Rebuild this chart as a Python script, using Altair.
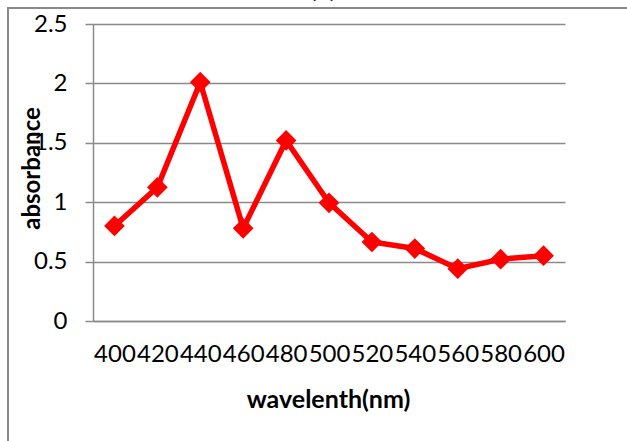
import altair as alt
import pandas as pd

wavelengths = ["400", "420", "440", "460", "480", "500", "520", "540", "560", "580", "600"]
absorbance = [0.80, 1.125, 2.01, 0.78, 1.52, 0.995, 0.665, 0.61, 0.44, 0.52, 0.55]
y_ticks = [0, 0.5, 1, 1.5, 2, 2.5]
chart_title = "(a)"
x_title = "wavelenth(nm)"
y_title = "absorbance"

df = pd.DataFrame({"wavelength": wavelengths, "absorbance": absorbance})

FONT = "Lato"
GRID = "#8a8a8a"
RED = "#ff0000"

x_enc = alt.X(
    "wavelength:O",
    sort=wavelengths,
    scale=alt.Scale(type="point", padding=0.5),
    axis=alt.Axis(
        title=x_title,
        labelAngle=0,
        labelFont=FONT,
        labelFontSize=24,
        labelColor="#000000",
        labelPadding=21,
        ticks=False,
        tickSize=0,
        domainColor=GRID,
        domainWidth=1.5,
        titleFont=FONT,
        titleFontSize=25,
        titleFontWeight="bold",
        titleColor="#000000",
        titleX=235,
        titleY=78,
        titleBaseline="middle",
        titleAlign="center",
    ),
)
y_enc = alt.Y(
    "absorbance:Q",
    scale=alt.Scale(domain=[0, 2.5], nice=False),
    axis=alt.Axis(
        title=y_title,
        values=y_ticks,
        format="~g",
        labelFont=FONT,
        labelFontSize=24,
        labelColor="#000000",
        labelPadding=18,
        tickSize=8,
        tickColor=GRID,
        tickWidth=1.5,
        domainColor=GRID,
        domainWidth=1.5,
        grid=True,
        gridColor=GRID,
        gridWidth=1.5,
        titleFont=FONT,
        titleFontSize=24,
        titleFontWeight="bold",
        titleColor="#000000",
        titleAngle=-90,
        titleX=-61,
        titleY=144,
        titleAlign="center",
        titleBaseline="middle",
    ),
)

line = alt.Chart(df).mark_line(
    color=RED, strokeWidth=5.5,
    point=alt.OverlayMarkDef(shape="diamond", size=430, color=RED, filled=True, opacity=1),
).encode(x=x_enc, y=y_enc)

single = alt.Data(values=[{"t": chart_title}])

border = alt.Chart(single).mark_rect(
    filled=False, stroke=GRID, strokeWidth=2, clip=False
).encode(
    x=alt.value(-85), x2=alt.value(800), y=alt.value(-16), y2=alt.value(600)
)

title_text = alt.Chart(single).mark_text(
    font=FONT, fontSize=26, fontWeight="bold", color="#000000",
    align="center", baseline="alphabetic", clip=False,
).encode(x=alt.value(230), y=alt.value(-27), text="t:N")

chart = alt.layer(border, line, title_text).properties(
    width=472,
    height=297,
    autosize=alt.AutoSizeParams(type="none"),
    padding={"left": 93, "top": 24, "right": 62, "bottom": 120},
    background="white",
).configure_view(stroke=None)

chart.save("out.html", embed_options={"renderer": "svg", "actions": False})
